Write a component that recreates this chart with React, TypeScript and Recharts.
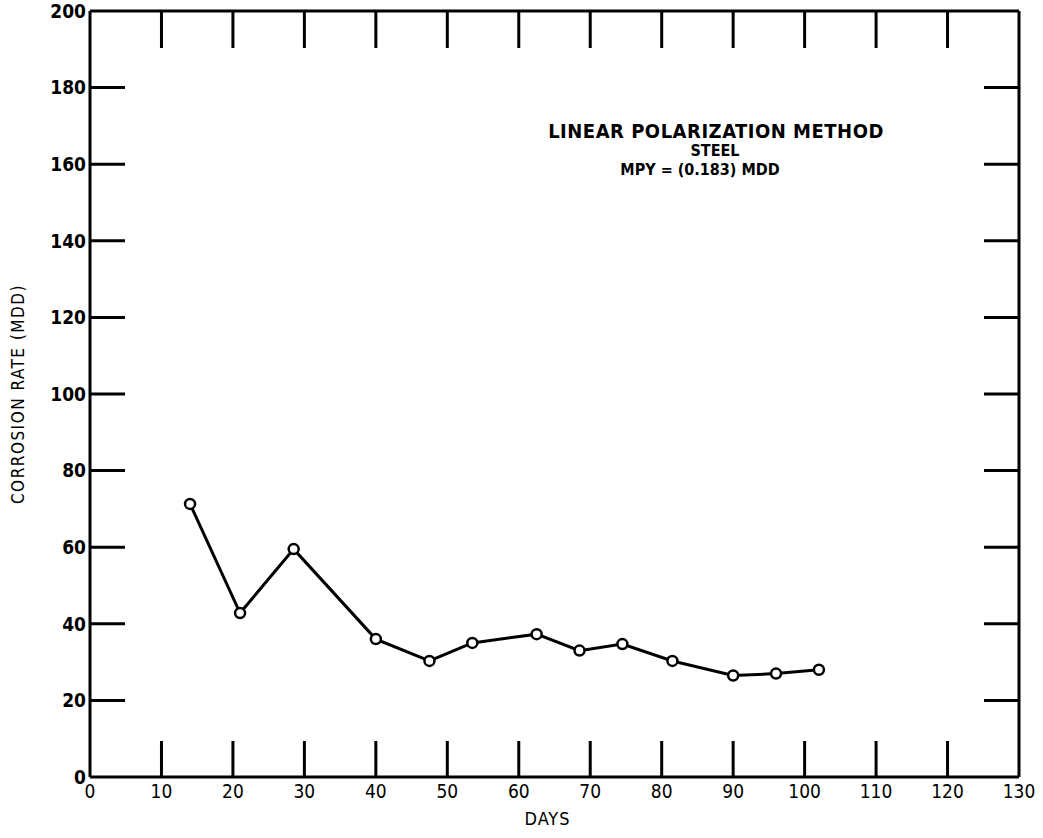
import React from 'react'
import { LineChart, Line, XAxis, YAxis, ReferenceLine, Label } from 'recharts'

// days of measurement and corrosion rate (MDD)
const days = [14, 21, 28.5, 40, 47.5, 53.5, 62.5, 68.5, 74.5, 81.5, 90, 96, 102]
const rates = [71.3, 42.8, 59.5, 36, 30.3, 35, 37.3, 33, 34.7, 30.3, 26.5, 27, 28]
const xTicks = [0, 10, 20, 30, 40, 50, 60, 70, 80, 90, 100, 110, 120, 130]
const yTicks = [0, 20, 40, 60, 80, 100, 120, 140, 160, 180, 200]

const data = days.map((d, i) => ({ day: d, rate: rates[i] }))

const W = 1043
const H = 838
const M = { top: 11, right: 24, left: 0, bottom: 0 }
const Y_AXIS_W = 90
const X_AXIS_H = 61
const PLOT_W = W - M.left - M.right - Y_AXIS_W
const PLOT_H = H - M.top - M.bottom - X_AXIS_H
const FONT = '"DejaVu Sans Condensed", "DejaVu Sans", sans-serif'

function BottomTick(props: any) {
  const { x, y, payload } = props
  const v = payload.value
  const inner = v > 0 && v < 130
  return (
    <g>
      {inner && <line x1={x} y1={y} x2={x} y2={y - 36} stroke="#000" strokeWidth={3} />}
      {inner && <line x1={x} y1={y - PLOT_H} x2={x} y2={y - PLOT_H + 37} stroke="#000" strokeWidth={3} />}
      <text x={x} y={y + 7} dy="0.75em" textAnchor="middle" fontFamily={FONT} fontSize={19} fill="#000">
        {v}
      </text>
    </g>
  )
}

function LeftTick(props: any) {
  const { x, y, payload } = props
  const v = payload.value
  const inner = v > 0 && v < 200
  return (
    <g>
      {inner && <line x1={x} y1={y} x2={x + 35} y2={y} stroke="#000" strokeWidth={3} />}
      {inner && <line x1={x + PLOT_W} y1={y} x2={x + PLOT_W - 35} y2={y} stroke="#000" strokeWidth={3} />}
      <text x={x - 4} y={y} dy="0.36em" textAnchor="end" fontFamily={FONT} fontSize={19} fontWeight="bold" fill="#000">
        {v}
      </text>
    </g>
  )
}

export default function App() {
  return (
    <div style={{ position: 'absolute', left: 0, top: 0, width: W, height: H, background: '#fff' }}>
      <LineChart width={W} height={H} data={data} margin={M}>
        <XAxis
          dataKey="day"
          type="number"
          domain={[0, 130]}
          ticks={xTicks}
          interval={0}
          height={X_AXIS_H}
          tickSize={0}
          tickMargin={0}
          tickLine={false}
          axisLine={{ stroke: '#000', strokeWidth: 3 }}
          tick={<BottomTick />}
        >
          <Label
            value="DAYS"
            position="insideBottom"
            offset={13}
            dx={-7}
            style={{ fontFamily: FONT, fontSize: 18, fill: '#000', letterSpacing: 1 }}
          />
        </XAxis>
        <YAxis
          type="number"
          domain={[0, 200]}
          ticks={yTicks}
          interval={0}
          width={Y_AXIS_W}
          tickSize={0}
          tickMargin={0}
          tickLine={false}
          axisLine={{ stroke: '#000', strokeWidth: 3 }}
          tick={<LeftTick />}
        >
          <Label
            value="CORROSION RATE (MDD)"
            angle={-90}
            position="insideLeft"
            offset={18}
            style={{ fontFamily: FONT, fontSize: 17, fill: '#000', textAnchor: 'middle', letterSpacing: 1.5 }}
          />
        </YAxis>
        <ReferenceLine y={200} stroke="#000" strokeWidth={3} />
        <ReferenceLine x={130} stroke="#000" strokeWidth={3} />
        <Line
          dataKey="rate"
          type="linear"
          stroke="#000"
          strokeWidth={3}
          dot={{ r: 5, stroke: '#000', strokeWidth: 2.5, fill: '#fff' }}
          activeDot={false}
          isAnimationActive={false}
        />
      </LineChart>
      <div
        style={{
          position: 'absolute', left: 516, top: 119, width: 400, textAlign: 'center',
          fontFamily: FONT, fontWeight: 'bold', fontSize: 20, letterSpacing: 0.5, lineHeight: '24px',
        }}
      >
        LINEAR POLARIZATION METHOD
      </div>
      <div
        style={{
          position: 'absolute', left: 600, top: 141, width: 200, textAlign: 'center',
          fontFamily: FONT, fontWeight: 'bold', fontSize: 16, lineHeight: '19px',
        }}
      >
        <div style={{ marginLeft: 30 }}>STEEL</div>
        <div>MPY = (0.183) MDD</div>
      </div>
    </div>
  )
}
